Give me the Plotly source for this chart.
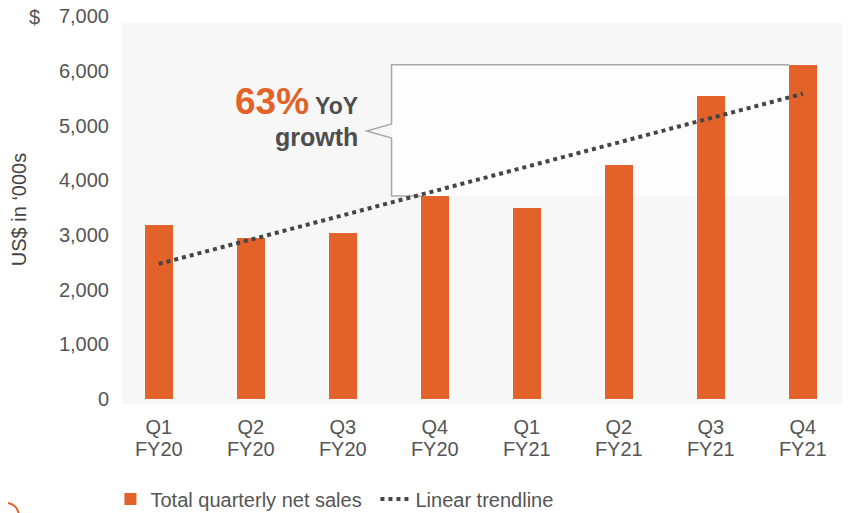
import plotly.graph_objects as go

quarters = ["Q1", "Q2", "Q3", "Q4", "Q1", "Q2", "Q3", "Q4"]
fiscal_years = ["FY20", "FY20", "FY20", "FY20", "FY21", "FY21", "FY21", "FY21"]
net_sales = [3180, 2940, 3030, 3710, 3490, 4280, 5540, 6110]
trend_x = [0, 7]
trend_y = [2470, 5580]
y_ticks = [0, 1000, 2000, 3000, 4000, 5000, 6000, 7000]

ORANGE = "#e2622a"
GREY_TXT = "#555555"
FONT = "Liberation Sans, Arial, sans-serif"
BAR_W = 0.3
X_RANGE = [-0.40, 7.437]

x_idx = list(range(len(quarters)))

fig = go.Figure()
fig.add_trace(go.Bar(
    x=x_idx, y=net_sales, width=BAR_W,
    marker_color=ORANGE, marker_line_width=0,
    name="Total quarterly net sales"
))
fig.add_trace(go.Scatter(
    x=trend_x, y=trend_y, mode="lines", xaxis="x2",
    line=dict(color="#454545", width=4, dash="dot"),
    name="Linear trendline"
))

# plot background panel
shapes = [dict(type="rect", xref="paper", yref="y", x0=0, x1=1, y0=-91, y1=6874,
               fillcolor="#f7f7f7", line_width=0, layer="below")]

# YoY bracket from Q4 FY20 to Q4 FY21
lo, hi = net_sales[3], net_sales[7]
bx = 2.53
tip = 2.26
mid = 4900
shapes.append(dict(type="rect", xref="x", yref="y", x0=bx, x1=7 - BAR_W / 2,
                   y0=lo, y1=hi, fillcolor="#fdfdfd", line_width=0, layer="below"))
path = (f"M {3 - BAR_W / 2},{lo} L {bx},{lo} L {bx},{mid - 130} L {tip},{mid} "
        f"L {bx},{mid + 130} L {bx},{hi} L {7 - BAR_W / 2},{hi}")
shapes.append(dict(type="path", xref="x", yref="y", path=path,
                   line=dict(color="#a8a8a8", width=1.5), layer="below"))

# decorative circle bottom-left
shapes.append(dict(type="circle", xref="paper", yref="paper",
                   x0=-0.178, x1=-0.143, y0=-0.322, y1=-0.254,
                   line=dict(color=ORANGE, width=2)))

annotations = [
    dict(text="$", xref="paper", yref="paper", x=-0.121, y=0.996, showarrow=False,
         font=dict(family=FONT, size=20, color=GREY_TXT), xanchor="center", yanchor="middle"),
    dict(text=f"<b><span style='color:{ORANGE};font-size:37px'>63%</span> YoY</b>",
         xref="paper", yref="paper", x=0.330, y=0.778, showarrow=False,
         xanchor="right", yanchor="middle",
         font=dict(family=FONT, size=23, color="#4d4d4d")),
    dict(text="<b>growth</b>", xref="paper", yref="paper", x=0.330, y=0.687,
         showarrow=False, xanchor="right", yanchor="middle",
         font=dict(family=FONT, size=25, color="#4d4d4d")),
]

fig.update_layout(
    width=842, height=505,
    margin=dict(l=114, r=7, t=7, b=109, autoexpand=False),
    paper_bgcolor="white", plot_bgcolor="white",
    font=dict(family=FONT, size=20, color=GREY_TXT),
    bargap=0,
    shapes=shapes,
    annotations=annotations,
    showlegend=True,
    legend=dict(orientation="h", x=-0.016, xanchor="left", y=-0.244, yanchor="middle",
                font=dict(family=FONT, size=20, color=GREY_TXT),
                bgcolor="rgba(0,0,0,0)", itemwidth=30, entrywidth=220),
    xaxis=dict(
        tickmode="array", tickvals=x_idx, ticktext=quarters,
        range=X_RANGE, showgrid=False, zeroline=False, showline=False,
        ticks="", ticklabelstandoff=9,
        tickfont=dict(family=FONT, size=20, color=GREY_TXT)
    ),
    xaxis2=dict(
        overlaying="x", anchor="y", side="bottom",
        tickmode="array", tickvals=x_idx, ticktext=fiscal_years,
        range=X_RANGE, showgrid=False, zeroline=False, showline=False,
        ticks="", ticklabelstandoff=31,
        tickfont=dict(family=FONT, size=20, color=GREY_TXT)
    ),
    yaxis=dict(
        range=[-91, 7020], tickvals=y_ticks, tickformat=",d",
        showgrid=False, zeroline=False, showline=False, ticks="",
        ticklabelstandoff=12, ticklabeloverflow="allow",
        tickfont=dict(family=FONT, size=20, color=GREY_TXT),
        title=dict(text="US$ in ‘000s", font=dict(family=FONT, size=20, color="#444444"),
                   standoff=27)
    ),
)

fig.write_html("out.html")
